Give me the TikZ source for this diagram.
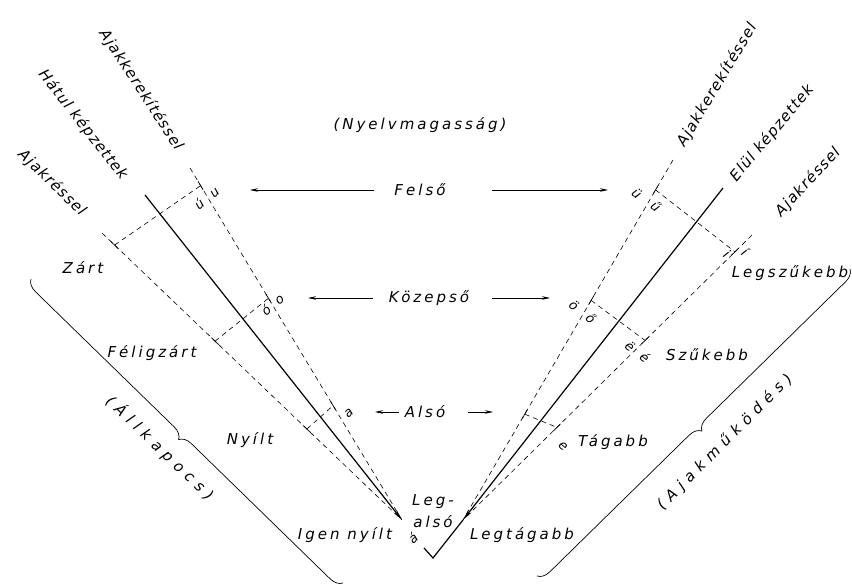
\documentclass[tikz,border=0pt]{standalone}
\usepackage{fontspec}
\newfontfamily\handfont{DejaVu Sans}[LetterSpace=20]
\newfontfamily\linefont{DejaVu Sans}[LetterSpace=8]
\newfontfamily\spacedfont{DejaVu Sans}[LetterSpace=40]
\usetikzlibrary{arrows.meta,calc,decorations.pathreplacing}

\tikzset{
  hand/.style={font=\handfont\itshape\fontsize{15}{22}\selectfont, inner sep=1pt},
  linelabel/.style={font=\linefont\itshape\fontsize{15}{18}\selectfont, inner sep=1pt},
  spaced/.style={font=\spacedfont\itshape\fontsize{15}{18}\selectfont, inner sep=1pt},
  vowel/.style={font=\linefont\itshape\fontsize{13}{15}\selectfont, inner sep=0.5pt},
  axis/.style={line width=1.2pt},
  aux/.style={line width=0.6pt, dash pattern=on 5pt off 4pt},
  tick/.style={line width=0.7pt},
  harrow/.style={line width=0.6pt, -{Stealth[length=8pt,width=3.5pt]}},
  bracket/.style={line width=0.7pt, decorate, decoration={brace, amplitude=12pt}},
}

\begin{document}
\begin{tikzpicture}[x=1pt,y=-1pt]
\useasboundingbox (0,0) rectangle (852,584);
% left group (hatul)
\coordinate (LKtop) at (190,168);
\coordinate (LStop) at (145,195);
\coordinate (LRtop) at (102,233);
\coordinate (L0) at (402,520);
% right group (elul)
\coordinate (RKtop) at (673,160);
\coordinate (RStop) at (723,188);
\coordinate (RRtop) at (752,235);
\coordinate (R0) at (463,520);
\coordinate (Vtip) at (433,558);
\coordinate (Vend) at (424,548);

\draw[aux] (LKtop) -- (L0);
\draw[aux] (LRtop) -- (L0);
\draw[axis, -{Stealth[length=11pt,width=4pt]}] (LStop) -- (L0);
\draw[aux] (RKtop) -- (R0);
\draw[aux] (RRtop) -- (R0);
\draw[axis, -{Stealth[length=11pt,width=4pt]}] (RStop) -- (R0);
\draw[axis] (R0) -- (Vtip) -- (Vend);

% levels on the lines
\coordinate (LRf) at ($(LRtop)!0.042!(L0)$);
\coordinate (LKf) at ($(LKtop)!0.05!(L0)$);
\coordinate (LRk) at ($(LRtop)!0.377!(L0)$);
\coordinate (LKk) at ($(LKtop)!0.37!(L0)$);
\coordinate (LRa) at ($(LRtop)!0.683!(L0)$);
\coordinate (LKa) at ($(LKtop)!0.675!(L0)$);
\coordinate (RKf) at ($(RKtop)!0.083!(R0)$);
\coordinate (RRf) at ($(RRtop)!0.059!(R0)$);
\coordinate (RKk) at ($(RKtop)!0.39!(R0)$);
\coordinate (RRk) at ($(RRtop)!0.37!(R0)$);
\coordinate (RKa) at ($(RKtop)!0.706!(R0)$);
\coordinate (RRa) at ($(RRtop)!0.675!(R0)$);

\foreach \a/\b in {LRf/LKf, LRk/LKk, LRa/LKa, RKf/RRf, RKk/RRk, RKa/RRa}
  \draw[aux] (\a) -- (\b);
\foreach \p/\s/\e in {LRf/LRtop/L0, LKf/LKtop/L0, LRk/LRtop/L0, LKk/LKtop/L0,
    LRa/LRtop/L0, LKa/LKtop/L0, RKf/RKtop/R0, RRf/RRtop/R0, RKk/RKtop/R0,
    RRk/RRtop/R0, RKa/RKtop/R0, RRa/RRtop/R0}
  \draw[tick] ($(\p)!5pt!(\s)$) -- ($(\p)!5pt!(\e)$);

% line names
\node[linelabel, rotate=-57] (lK) at (141,90) {Ajakkerekítéssel};
\node[linelabel, rotate=-52] (lS) at (83,125) {Hátul képzettek};
\node[linelabel, rotate=-44] (lR) at (52,183) {Ajakréssel};
\node[linelabel, rotate=59] (rK) at (717,85) {Ajakkerekítéssel};
\node[linelabel, rotate=50] (rS) at (772,133) {Elül képzettek};
\node[linelabel, rotate=47] (rR) at (808,182) {Ajakréssel};

% tongue height
\node[hand] (nyelv) at (420,125) {(Nyelvmagasság)};
\node[hand] (felso) at (420,190) {Felső};
\node[hand] (kozepso) at (429,298) {Közepső};
\node[hand] (also) at (425,412) {Alsó};
\node[hand, align=center] (legalso) at (433,511) {Leg-\\alsó};
\coordinate (felsoL) at (250,190);
\coordinate (felsoR) at (608,190);
\coordinate (kozepsoL) at (308,298);
\coordinate (kozepsoR) at (550,298);
\coordinate (alsoL) at (375,412);
\coordinate (alsoR) at (493,412);
\draw[harrow, shorten <=19pt] (felso) -- (felsoL);
\draw[harrow, shorten <=45pt] (felso) -- (felsoR);
\draw[harrow, shorten <=15pt] (kozepso) -- (kozepsoL);
\draw[harrow, shorten <=22pt] (kozepso) -- (kozepsoR);
\draw[harrow, shorten <=5pt] (also) -- (alsoL);
\draw[harrow, shorten <=22pt] (also) -- (alsoR);

% jaw opening
\node[hand] (zart) at (83,268) {Zárt};
\node[hand] (feligzart) at (152,353) {Féligzárt};
\node[hand] (nyilt) at (250,440) {Nyílt};
\node[hand] (igennyilt) at (345,535) {Igen nyílt};
% lip opening
\node[hand] (legszukebb) at (790,273) {Legszűkebb};
\node[hand] (szukebb) at (707,355) {Szűkebb};
\node[hand] (tagabb) at (613,442) {Tágabb};
\node[hand] (legtagabb) at (522,535) {Legtágabb};

% vowels
\node[vowel, rotate=40] (vu) at (215,193) {u};
\node[vowel, rotate=40] (vuu) at (199,204) {ú};
\node[vowel, rotate=40] (vo) at (280,300) {o};
\node[vowel, rotate=40] (voo) at (266,310) {ó};
\node[vowel, rotate=40] (va) at (349,413) {a};
\node[vowel, rotate=40] (vaa) at (413,538) {á};
\node[vowel, rotate=-40] (vue) at (637,193) {ü};
\node[vowel, rotate=-40] (vuue) at (656,206) {ű};
\node[vowel, rotate=-40] (voe) at (574,305) {ö};
\node[vowel, rotate=-40] (vooe) at (591,318) {ő};
\node[vowel, rotate=-40] (vi) at (727,254) {i};
\node[vowel, rotate=-40] (vii) at (745,252) {í};
\node[vowel, rotate=-40] (vee) at (630,346) {ë};
\node[vowel, rotate=-40] (veee) at (645,357) {é};
\node[vowel, rotate=-40] (ve) at (563,446) {e};

% braces
\draw[bracket, decoration={mirror}] (31,279) -- (343,583);
\draw[bracket] (850,269) -- (537,576);
\node[spaced, rotate=-44] (allkapocs) at (160,448) {(Állkapocs)};
\node[spaced, rotate=45] (ajakmukodes) at (725,442) {(Ajakműködés)};
\end{tikzpicture}
\end{document}
